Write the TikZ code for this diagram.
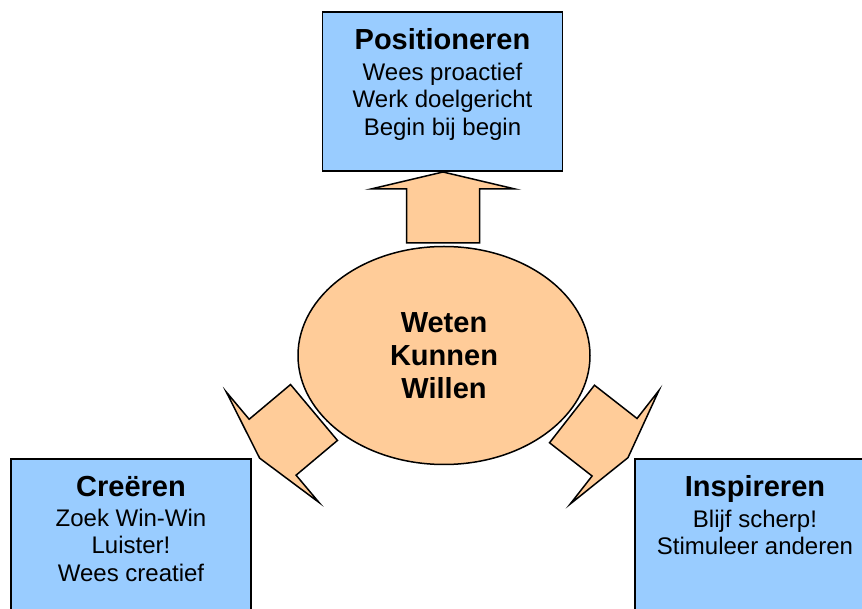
\documentclass[tikz,border=0pt]{standalone}
\usepackage{fontspec}
\setmainfont{Liberation Sans}
\usepackage{tikz}
\usetikzlibrary{positioning,shapes.geometric,calc}
\definecolor{boxblue}{RGB}{153,204,255}
\definecolor{corepeach}{RGB}{255,204,153}
\newcommand{\boxheadfont}{\fontsize{29}{33}\selectfont\bfseries}
\newcommand{\boxitemfont}{\fontsize{24}{27.6}\selectfont}
\tikzset{
  box/.style={draw, fill=boxblue, line width=1.5pt, minimum width=240pt, minimum height=159pt, inner sep=0pt},
  boxtext/.style={anchor=north, align=center, inner sep=0pt, font=\boxitemfont},
  core/.style={ellipse, draw, fill=corepeach, line width=1.5pt, minimum width=292pt, minimum height=218pt, align=center, font=\boxheadfont},
  blockarrow/.pic={\draw[fill=corepeach, line width=1.5pt] (0,36.5) -- (54,36.5) -- (54,72) -- (71,0) -- (54,-72) -- (54,-36.5) -- (0,-36.5) -- cycle;}
}

\begin{document}
\begin{tikzpicture}[x=1pt, y=1pt]
  \useasboundingbox (0,0) rectangle (862,608);
  \clip (0,0) rectangle (862,608);
  \node[core] (core) at (444,252.5) {Weten\\Kunnen\\Willen};
  \node[box] (pos) at (442.5,516.5) {};
  \node[box] (cre) at (131,69.5) {};
  \node[box] (ins) at (755,69.5) {};
  \node[boxtext] (postxt) at ([yshift=-17.5pt]pos.north) {{\boxheadfont Positioneren}\\[2.5pt] Wees proactief\\ Werk doelgericht\\ Begin bij begin};
  \node[boxtext] (cretxt) at ([yshift=-17.5pt]cre.north) {{\boxheadfont Creëren}\\[2.5pt] Zoek Win-Win\\ Luister!\\ Wees creatief};
  \node[boxtext] (instxt) at ([yshift=-17.5pt]ins.north) {{\boxheadfont Inspireren}\\[2.5pt] Blijf scherp!\\ Stimuleer anderen};
  \pic[rotate=90] at ($(core.center)+(-1,112.5)$) {blockarrow};
  \pic[rotate=220] at ($(core.center)+(-130,-57)$) {blockarrow};
  \pic[rotate=-38] at ($(core.center)+(128,-58.5)$) {blockarrow};
\end{tikzpicture}
\end{document}
